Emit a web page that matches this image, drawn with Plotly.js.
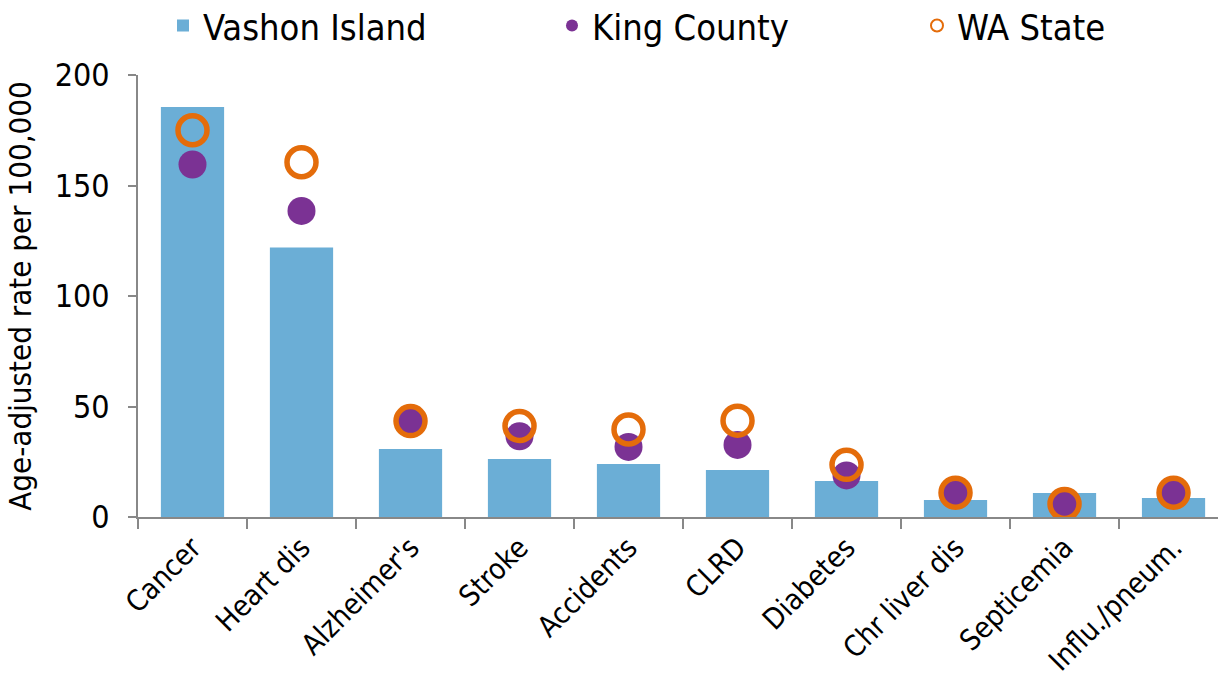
<!DOCTYPE html>
<html>
<head>
<meta charset="utf-8">
<script src="https://cdn.plot.ly/plotly-3.0.1.min.js"></script>
<style>html,body{margin:0;padding:0;background:#fff;}#chart{width:1218px;height:692px;}</style>
</head>
<body>
<div id="chart"></div>
<script>
const categories = ["Cancer","Heart dis","Alzheimer's","Stroke","Accidents","CLRD","Diabetes","Chr liver dis","Septicemia","Influ./pneum."];
const vashonIsland = [185.5,122,30.8,26.2,24,21.3,16.3,7.7,10.9,8.6];
const kingCounty = [159.5,138.5,43.4,36.5,31.7,32.6,18.8,10.2,5.9,11.2];
const waState = [175,160.5,43.4,41.2,39.6,43.6,23.6,11.0,5.9,11.0];
const yTicks = [0,50,100,150,200];

const FONT = "DejaVu Sans Condensed, Tahoma, sans-serif";

const traces = [
  {type:'bar', name:'Vashon Island', x:categories, y:vashonIsland,
   marker:{color:'#6BAED6'}, legend:'legend'},
  {type:'scatter', mode:'markers', name:'King County', x:categories, y:kingCounty,
   marker:{color:'#7B3294', size:28, symbol:'circle'}, legend:'legend2'},
  {type:'scatter', mode:'markers', name:'WA State', x:categories, y:waState,
   marker:{color:'#E46C0A', size:29, symbol:'circle-open', line:{width:5.5, color:'#E46C0A'}}, legend:'legend3'}
];

function leg(xpx){
  return {orientation:'h', xref:'container', yref:'container', x:xpx/1218, y:0.963,
          xanchor:'left', yanchor:'middle', font:{size:36, family:FONT},
          itemsizing:'constant', bgcolor:'rgba(0,0,0,0)'};
}

const layout = {
  width:1218, height:692,
  margin:{l:138, r:0, t:75, b:175, autoexpand:false},
  paper_bgcolor:'#fff', plot_bgcolor:'#fff',
  font:{family:FONT, color:'#000', size:32},
  bargap:0.42,
  showlegend:true,
  legend:leg(163),
  legend2:leg(552),
  legend3:leg(917),
  xaxis:{type:'category', range:[-0.5, 9.408], showgrid:false, zeroline:false,
         showline:true, linecolor:'#888', linewidth:2,
         ticks:'outside', tickson:'boundaries', ticklen:10, tickcolor:'#888', tickwidth:2,
         tickangle:-45, tickfont:{size:29, family:FONT}},
  yaxis:{range:[0,200], tickvals:yTicks, showgrid:false, zeroline:false,
         showline:true, linecolor:'#888', linewidth:2,
         ticks:'outside', ticklen:8, tickcolor:'#888', tickwidth:2,
         ticklabelstandoff:12,
         tickfont:{size:32, family:FONT},
         title:{text:'Age-adjusted rate per 100,000', font:{size:31, family:FONT}, standoff:14}}
};

Plotly.newPlot('chart', traces, layout, {displayModeBar:false, responsive:false});
</script>
</body>
</html>
